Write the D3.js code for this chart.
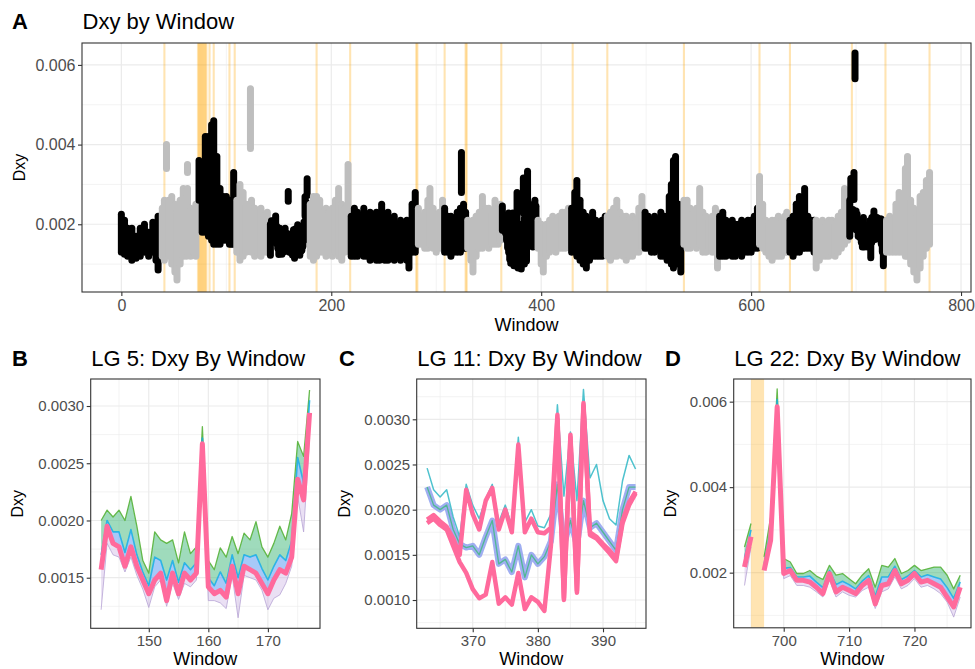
<!DOCTYPE html>
<html>
<head>
<meta charset="utf-8">
<title>Dxy by Window</title>
<script src="https://cdn.jsdelivr.net/npm/d3@7"></script>
<style>
  body { margin: 0; background: #fff; }
  svg text { font-family: "Liberation Sans", Arial, sans-serif; }
</style>
</head>
<body>
<div id="chart"></div>
<script>
// ---- data ----
// first window of every linkage group (colours alternate black / grey)
const lgStart = [0, 39, 73, 109, 142, 179, 218, 282, 307, 329, 363, 396, 429, 462, 497, 535, 569, 607, 636, 662, 694, 728];
// outlier windows shaded orange
const highlightWin = [41, 73, 74, 75, 76, 77, 78, 79, 80, 81, 84, 88, 103, 108, 186, 218, 281, 282, 308, 328, 329, 362, 430, 463, 536, 608, 637, 696, 728, 770];

// panel A: spread of the comparisons per window (LG 5, 11, 22 come from panels B-D)
const winA = [0, 3, 6, 10, 14, 18, 22, 26, 30, 33, 35, 37,
  39, 41, 43, 45, 48, 51, 53, 56, 59, 62, 63, 63, 66, 69, 71,
  74, 77, 80, 83, 86, 88, 91, 94, 97, 100, 103, 105, 107,
  110, 113, 116, 119, 123, 124, 127, 130, 133, 136, 139,
  180, 183, 186, 189, 192, 195, 198, 201, 204, 207, 210, 213, 216,
  219, 222, 225, 228, 231, 234, 237, 240, 243, 246, 248, 251, 254, 257, 260, 263, 266, 269, 272, 274, 277, 280,
  283, 286, 289, 292, 294, 297, 300, 303, 306,
  308, 311, 314, 317, 320, 323, 324, 326, 328,
  330, 333, 335, 338, 341, 344, 347, 350, 353, 356, 359, 361,
  397, 400, 402, 405, 408, 411, 414, 417, 420, 423, 426,
  429, 432, 434, 437, 440, 443, 446, 449, 452, 455, 458, 461,
  463, 466, 469, 472, 475, 478, 481, 484, 487, 490, 493, 496,
  499, 502, 505, 508, 511, 514, 517, 520, 522, 524, 526, 528, 531, 533,
  536, 539, 542, 545, 548, 551, 554, 557, 560, 563, 566, 568,
  570, 573, 576, 579, 582, 585, 588, 591, 594, 597, 600, 603, 606,
  608, 611, 614, 617, 620, 623, 626, 629, 632, 634,
  637, 640, 643, 646, 649, 651, 654, 657, 660,
  662, 665, 668, 671, 674, 677, 680, 683, 686, 689, 692,
  729, 732, 735, 738, 741, 744, 747, 749, 752, 755, 758, 761, 764, 767, 770];
const loA = [0.0013, 0.00125, 0.0012, 0.0011, 0.00115, 0.0012, 0.0013, 0.0012, 0.0013, 0.0011, 0.00085, 0.0012,
  0.0012, 0.0011, 0.0034, 0.0012, 0.0010, 0.0008, 0.0006, 0.0010, 0.0012, 0.0012, 0.0013, 0.0033, 0.0012, 0.0013, 0.0012,
  0.0026, 0.0018, 0.0018, 0.0017, 0.0016, 0.0015, 0.0015, 0.0015, 0.0016, 0.0016, 0.0015, 0.0015, 0.0015,
  0.0013, 0.0011, 0.0012, 0.0013, 0.0039, 0.0013, 0.0012, 0.0013, 0.0012, 0.0013, 0.0013,
  0.0012, 0.0011, 0.0012, 0.0013, 0.0013, 0.0012, 0.0013, 0.0012, 0.0013, 0.0012, 0.0011, 0.0013, 0.0014,
  0.0012, 0.0012, 0.0012, 0.0013, 0.0012, 0.0012, 0.0011, 0.0012, 0.0011, 0.0011, 0.0012, 0.0011, 0.0011, 0.0012, 0.0011, 0.0012, 0.0011, 0.0012, 0.0011, 0.0009, 0.0013, 0.0013,
  0.0015, 0.0015, 0.0014, 0.0014, 0.0015, 0.0014, 0.0013, 0.0014, 0.0014,
  0.0013, 0.0013, 0.0012, 0.0013, 0.0013, 0.0013, 0.0028, 0.0014, 0.0014,
  0.0014, 0.0011, 0.0008, 0.0012, 0.0014, 0.0014, 0.0015, 0.0014, 0.0015, 0.0015, 0.0015, 0.0016,
  0.0014, 0.0010, 0.0008, 0.0012, 0.0013, 0.0014, 0.0013, 0.0014, 0.0014, 0.0014, 0.0015,
  0.0013, 0.0013, 0.0012, 0.0011, 0.0010, 0.0009, 0.0011, 0.0012, 0.0012, 0.0012, 0.0012, 0.0013,
  0.0012, 0.0011, 0.0012, 0.0012, 0.0013, 0.0012, 0.0011, 0.0012, 0.0012, 0.0013, 0.0013, 0.0014,
  0.0014, 0.0014, 0.0013, 0.0013, 0.0014, 0.0012, 0.0012, 0.0011, 0.0012, 0.0010, 0.0009, 0.0010, 0.0010, 0.0008,
  0.0015, 0.0014, 0.0014, 0.0015, 0.0014, 0.0015, 0.0013, 0.0013, 0.0014, 0.0013, 0.0013, 0.0009,
  0.0012, 0.0012, 0.0012, 0.0013, 0.0012, 0.0012, 0.0013, 0.0012, 0.0013, 0.0013, 0.0013, 0.0014, 0.0014,
  0.0015, 0.0014, 0.0013, 0.0012, 0.0011, 0.0012, 0.0012, 0.0012, 0.0013, 0.0013,
  0.0013, 0.0012, 0.0013, 0.0013, 0.0014, 0.0014, 0.0014, 0.0014, 0.0013,
  0.0009, 0.0011, 0.0012, 0.0012, 0.0012, 0.0013, 0.0012, 0.0013, 0.0014, 0.0015, 0.0016,
  0.0013, 0.0013, 0.0013, 0.0013, 0.0013, 0.0013, 0.0012, 0.0012, 0.0010, 0.0008, 0.0006, 0.0009, 0.0012, 0.0014, 0.0015];
const hiA = [0.00225, 0.0021, 0.0019, 0.0019, 0.0017, 0.0019, 0.0020, 0.0018, 0.00205, 0.0019, 0.0022, 0.0022,
  0.0024, 0.0026, 0.0040, 0.0026, 0.0027, 0.0025, 0.0023, 0.0026, 0.0029, 0.0027, 0.0029, 0.0035, 0.0024, 0.0023, 0.0025,
  0.0036, 0.0035, 0.0042, 0.0042, 0.0045, 0.0046, 0.0037, 0.0029, 0.0027, 0.0027, 0.0026, 0.0025, 0.0033,
  0.0026, 0.0030, 0.0028, 0.0025, 0.0054, 0.0026, 0.0024, 0.0023, 0.0024, 0.0022, 0.0023,
  0.0025, 0.0027, 0.0027, 0.0026, 0.0023, 0.0024, 0.0023, 0.0024, 0.0026, 0.0029, 0.0025, 0.0024, 0.0035,
  0.0022, 0.0024, 0.0023, 0.0021, 0.0024, 0.0022, 0.0023, 0.0021, 0.0023, 0.0022, 0.0025, 0.0022, 0.0023, 0.0021, 0.0022, 0.0020, 0.0021, 0.0020, 0.0021, 0.0019, 0.0025, 0.0028,
  0.0024, 0.0022, 0.0023, 0.0026, 0.0029, 0.0024, 0.0022, 0.0023, 0.0026,
  0.0024, 0.0022, 0.0022, 0.0021, 0.0023, 0.0024, 0.0038, 0.0025, 0.0023,
  0.0021, 0.0020, 0.0021, 0.0022, 0.0023, 0.0027, 0.0024, 0.0024, 0.0023, 0.0026, 0.0024, 0.0025,
  0.0021, 0.0020, 0.0019, 0.0020, 0.0021, 0.0022, 0.0021, 0.0022, 0.0023, 0.0023, 0.0024,
  0.0024, 0.0028, 0.0031, 0.0026, 0.0023, 0.0022, 0.0021, 0.0023, 0.0021, 0.0020, 0.0021, 0.0022,
  0.0022, 0.0023, 0.0024, 0.0026, 0.0023, 0.0022, 0.0022, 0.0021, 0.0022, 0.0021, 0.0024, 0.0027,
  0.0023, 0.0022, 0.0021, 0.0022, 0.0021, 0.0023, 0.0022, 0.0022, 0.0027, 0.0030, 0.0036, 0.0037, 0.0025, 0.0023,
  0.0026, 0.0026, 0.0024, 0.0023, 0.0024, 0.0029, 0.0023, 0.0022, 0.0021, 0.0022, 0.0024, 0.0023,
  0.0022, 0.0023, 0.0021, 0.0020, 0.0021, 0.0020, 0.0020, 0.0021, 0.0020, 0.0021, 0.0021, 0.0022, 0.0024,
  0.0032, 0.0025, 0.0021, 0.0020, 0.0021, 0.0021, 0.0022, 0.0021, 0.0022, 0.0023,
  0.0021, 0.0022, 0.0025, 0.0027, 0.0026, 0.0029, 0.0022, 0.0021, 0.0021,
  0.0021, 0.0020, 0.0021, 0.0020, 0.0021, 0.0021, 0.0020, 0.0022, 0.0023, 0.0029, 0.0025,
  0.0021, 0.0022, 0.0021, 0.0025, 0.0028, 0.0023, 0.0034, 0.0037, 0.0026, 0.0024, 0.0022, 0.0027, 0.0028, 0.0031, 0.0033];

// panel B: LG 5, windows 142-177
const lg5First = 142;
const lg5Top  = [0.00200, 0.00209, 0.00203, 0.00209, 0.00200, 0.00221, 0.00195, 0.00165, 0.00154, 0.00190, 0.00183, 0.00180, 0.00183, 0.00163, 0.00190, 0.00171, 0.00177, 0.00282, 0.00165, 0.00157, 0.00176, 0.00168, 0.00186, 0.00171, 0.00189, 0.00183, 0.00199, 0.00177, 0.00168, 0.00180, 0.00195, 0.00183, 0.00206, 0.00269, 0.00256, 0.00314];
const lg5Mid  = [0.00170, 0.00200, 0.00190, 0.00190, 0.00172, 0.00192, 0.00170, 0.00155, 0.00143, 0.00168, 0.00165, 0.00148, 0.00165, 0.00146, 0.00163, 0.00157, 0.00163, 0.00272, 0.00150, 0.00143, 0.00155, 0.00145, 0.00170, 0.00150, 0.00170, 0.00168, 0.00170, 0.00158, 0.00148, 0.00160, 0.00170, 0.00165, 0.00182, 0.00255, 0.00233, 0.00305];
const lg5Pink = [0.00157, 0.00195, 0.00180, 0.00177, 0.00160, 0.00177, 0.00160, 0.00148, 0.00136, 0.00148, 0.00154, 0.00130, 0.00154, 0.00136, 0.00154, 0.00148, 0.00154, 0.00267, 0.00142, 0.00136, 0.00139, 0.00133, 0.00160, 0.00136, 0.00160, 0.00157, 0.00154, 0.00145, 0.00136, 0.00148, 0.00157, 0.00154, 0.00168, 0.00236, 0.00218, 0.00294];
const lg5Low  = [0.00122, 0.00180, 0.00170, 0.00168, 0.00155, 0.00168, 0.00152, 0.00140, 0.00124, 0.00142, 0.00148, 0.00125, 0.00145, 0.00131, 0.00145, 0.00142, 0.00148, 0.00258, 0.00130, 0.00130, 0.00128, 0.00123, 0.00152, 0.00115, 0.00152, 0.00150, 0.00148, 0.00139, 0.00122, 0.00132, 0.00135, 0.00145, 0.00160, 0.00221, 0.00190, 0.00272];

// panel C: LG 11, windows 363-395
const lg11First = 363;
const lg11Top = [0.00246, 0.00222, 0.00214, 0.00222, 0.00192, 0.00170, 0.00228, 0.00205, 0.00190, 0.00212, 0.00228, 0.00186, 0.00205, 0.00182, 0.00280, 0.00186, 0.00200, 0.00182, 0.00180, 0.00195, 0.00316, 0.00215, 0.00286, 0.00210, 0.00333, 0.00235, 0.00250, 0.00210, 0.00190, 0.00183, 0.00232, 0.00260, 0.00245];
const lg11Mid = [0.00225, 0.00205, 0.00200, 0.00205, 0.00178, 0.00162, 0.00158, 0.00160, 0.00150, 0.00170, 0.00188, 0.00140, 0.00145, 0.00131, 0.00160, 0.00125, 0.00150, 0.00140, 0.00148, 0.00165, 0.00228, 0.00160, 0.00188, 0.00160, 0.00210, 0.00180, 0.00185, 0.00175, 0.00165, 0.00155, 0.00200, 0.00225, 0.00225];
const lg11Up  = [0.00189, 0.00194, 0.00187, 0.00181, 0.00168, 0.00150, 0.00222, 0.00195, 0.00178, 0.00210, 0.00224, 0.00178, 0.00200, 0.00175, 0.00272, 0.00175, 0.00190, 0.00175, 0.00174, 0.00180, 0.00305, 0.00102, 0.00283, 0.00110, 0.00318, 0.00175, 0.00170, 0.00162, 0.00155, 0.00146, 0.00188, 0.00208, 0.00220];
const lg11Lo  = [0.00185, 0.00190, 0.00183, 0.00178, 0.00160, 0.00142, 0.00130, 0.00112, 0.00102, 0.00106, 0.00142, 0.00096, 0.00103, 0.00095, 0.00130, 0.00090, 0.00103, 0.00098, 0.00088, 0.00160, 0.00300, 0.00100, 0.00280, 0.00108, 0.00315, 0.00172, 0.00168, 0.00160, 0.00152, 0.00143, 0.00185, 0.00205, 0.00218];

// panel D: LG 22, windows 694-727 (696 missing)
const lg22First = 694;
const lg22Top  = [0.00260, 0.00315, null, 0.00237, 0.00330, 0.00630, 0.00233, 0.00225, 0.00198, 0.00198, 0.00205, 0.00192, 0.00184, 0.00217, 0.00194, 0.00198, 0.00186, 0.00174, 0.00194, 0.00209, 0.00166, 0.00217, 0.00213, 0.00233, 0.00198, 0.00205, 0.00217, 0.00205, 0.00209, 0.00213, 0.00213, 0.00194, 0.00162, 0.00194];
const lg22Mid  = [0.00235, 0.00300, null, 0.00220, 0.00300, 0.00605, 0.00210, 0.00212, 0.00190, 0.00190, 0.00192, 0.00178, 0.00165, 0.00205, 0.00172, 0.00180, 0.00172, 0.00162, 0.00180, 0.00193, 0.00145, 0.00190, 0.00190, 0.00215, 0.00184, 0.00192, 0.00205, 0.00190, 0.00195, 0.00190, 0.00185, 0.00165, 0.00140, 0.00178];
const lg22Pink = [0.00213, 0.00284, null, 0.00205, 0.00276, 0.00588, 0.00198, 0.00205, 0.00182, 0.00182, 0.00178, 0.00166, 0.00151, 0.00198, 0.00155, 0.00166, 0.00159, 0.00151, 0.00170, 0.00182, 0.00127, 0.00170, 0.00174, 0.00205, 0.00174, 0.00182, 0.00198, 0.00178, 0.00182, 0.00174, 0.00166, 0.00143, 0.00120, 0.00166];
const lg22Low  = [0.00170, 0.00260, null, 0.00205, 0.00262, 0.00565, 0.00186, 0.00193, 0.00170, 0.00170, 0.00166, 0.00155, 0.00143, 0.00182, 0.00143, 0.00155, 0.00147, 0.00143, 0.00158, 0.00166, 0.00116, 0.00155, 0.00162, 0.00190, 0.00162, 0.00170, 0.00186, 0.00166, 0.00170, 0.00162, 0.00151, 0.00131, 0.00096, 0.00143];

// ---- drawing ----
const svg = d3.select("#chart").append("svg")
    .attr("width", 975)
    .attr("height", 669);

const gridCol = "#ebebeb";
const inkCol = "#333333";
const tickTextCol = "#4d4d4d";

function frame(p) {
    const [l, r] = p.x.range();
    const [b, t] = p.y.range();
    const g = svg.append("g");
    g.append("rect").attr("x", l).attr("y", t).attr("width", r - l).attr("height", b - t).attr("fill", "#fff");

    svg.append("clipPath").attr("id", "clip-" + p.id)
        .append("rect").attr("x", l).attr("y", t).attr("width", r - l).attr("height", b - t);

    g.selectAll(".ymin").data(p.yMinor).enter().append("line")
        .attr("x1", l).attr("x2", r).attr("y1", d => p.y(d)).attr("y2", d => p.y(d))
        .attr("stroke", gridCol).attr("stroke-width", 0.6);
    g.selectAll(".xmin").data(p.xMinor).enter().append("line")
        .attr("y1", t).attr("y2", b).attr("x1", d => p.x(d)).attr("x2", d => p.x(d))
        .attr("stroke", gridCol).attr("stroke-width", 0.6);
    g.selectAll(".ymaj").data(p.yTicks).enter().append("line")
        .attr("x1", l).attr("x2", r).attr("y1", d => p.y(d)).attr("y2", d => p.y(d))
        .attr("stroke", gridCol).attr("stroke-width", 1.2);
    g.selectAll(".xmaj").data(p.xTicks).enter().append("line")
        .attr("y1", t).attr("y2", b).attr("x1", d => p.x(d)).attr("x2", d => p.x(d))
        .attr("stroke", gridCol).attr("stroke-width", 1.2);

    return svg.append("g").attr("clip-path", "url(#clip-" + p.id + ")");
}

function axes(p) {
    const [l, r] = p.x.range();
    const [b, t] = p.y.range();
    svg.append("rect").attr("x", l).attr("y", t).attr("width", r - l).attr("height", b - t)
        .attr("fill", "none").attr("stroke", inkCol).attr("stroke-width", 1.1);

    const ya = svg.append("g").attr("transform", `translate(${l},0)`)
        .call(d3.axisLeft(p.y).tickValues(p.yTicks).tickFormat(d3.format(p.yFmt)).tickSize(4).tickPadding(2.5));
    const xa = svg.append("g").attr("transform", `translate(0,${b})`)
        .call(d3.axisBottom(p.x).tickValues(p.xTicks).tickFormat(d3.format("d")).tickSize(4).tickPadding(3.5));
    [ya, xa].forEach(a => {
        a.select(".domain").remove();
        a.selectAll(".tick line").attr("stroke", inkCol).attr("stroke-width", 1.1);
        a.selectAll(".tick text").attr("fill", tickTextCol)
            .style("font-size", p.tickFs + "px")
            .style("font-family", '"Liberation Sans", Arial, sans-serif');
    });

    svg.append("text").attr("x", (l + r) / 2).attr("y", p.xTitleY)
        .attr("text-anchor", "middle").attr("font-size", 18).attr("fill", "#000").text("Window");
    svg.append("text").attr("transform", `translate(${p.yTitleX},${(t + b) / 2}) rotate(-90)`)
        .attr("text-anchor", "middle").attr("font-size", 16).attr("fill", "#000").text("Dxy");

    svg.append("text").attr("x", p.tagX).attr("y", p.titleY)
        .attr("font-size", 22).attr("font-weight", "bold").attr("fill", "#000").text(p.tag);
    svg.append("text").attr("x", l + 0.5).attr("y", p.titleY)
        .attr("font-size", 22).attr("fill", "#000").text(p.title);
}

// ---------- panel A ----------
const xA = d3.scaleLinear().domain([-37.5, 809.5]).range([82, 971]);
const yA = d3.scaleLinear().domain([0.0003, 0.00655]).range([292, 43]);
const pA = {
    id: "A", x: xA, y: yA,
    xTicks: [0, 200, 400, 600, 800], xMinor: [100, 300, 500, 700],
    yTicks: [0.002, 0.004, 0.006], yMinor: [0.001, 0.003, 0.005], yFmt: ".3f",
    tickFs: 16, xTitleY: 331, yTitleX: 25, tag: "A", tagX: 12, titleY: 29, title: "Dxy by Window"
};

// panels B-D share the layout below
const panels = [
    { id: "B", first: lg5First, series: [lg5Top, lg5Mid, lg5Pink, lg5Low], band: true,
      x: d3.scaleLinear().domain([140.25, 178.75]).range([90.7, 320]),
      y: d3.scaleLinear().domain([0.001058, 0.003236]).range([628.3, 379]),
      xTicks: [150, 160, 170], xMinor: [145, 155, 165, 175],
      yTicks: [0.0015, 0.002, 0.0025, 0.003], yMinor: [0.00125, 0.00175, 0.00225, 0.00275], yFmt: ".4f",
      tickFs: 15, xTitleY: 665, yTitleX: 23, tag: "B", tagX: 12, titleY: 366, title: "LG 5: Dxy By Window" },
    { id: "C", first: lg11First, series: [lg11Top, lg11Mid, lg11Up, lg11Lo], band: false,
      x: d3.scaleLinear().domain([361.4, 396.6]).range([416.7, 646]),
      y: d3.scaleLinear().domain([0.000687, 0.003446]).range([628.3, 379]),
      xTicks: [370, 380, 390], xMinor: [365, 375, 385, 395],
      yTicks: [0.001, 0.0015, 0.002, 0.0025, 0.003], yMinor: [0.00075, 0.00125, 0.00175, 0.00225, 0.00275, 0.00325], yFmt: ".4f",
      tickFs: 15, xTitleY: 665, yTitleX: 350, tag: "C", tagX: 339, titleY: 366, title: "LG 11: Dxy By Window" },
    { id: "D", first: lg22First, series: [lg22Top, lg22Mid, lg22Pink, lg22Low], band: true,
      x: d3.scaleLinear().domain([692.35, 728.65]).range([733.7, 971]),
      y: d3.scaleLinear().domain([0.00071, 0.00653]).range([627.8, 379]),
      xTicks: [700, 710, 720], xMinor: [695, 705, 715, 725],
      yTicks: [0.002, 0.004, 0.006], yMinor: [0.001, 0.003, 0.005], yFmt: ".3f",
      tickFs: 15, xTitleY: 665, yTitleX: 676, tag: "D", tagX: 665, titleY: 366, title: "LG 22: Dxy By Window" }
];

// stacks of points per window for panel A
const stacks = winA.map((w, i) => ({ w: w, lo: loA[i], hi: hiA[i] }));
panels.forEach(pn => {
    pn.series[0].forEach((_, i) => {
        const vals = pn.series.map(s => s[i]).filter(v => v != null);
        if (vals.length) stacks.push({ w: pn.first + i, lo: d3.min(vals), hi: d3.max(vals) });
    });
});
stacks.sort((a, b) => a.w - b.w);
const lgIndex = w => d3.bisectRight(lgStart, w) - 1;

const gA = frame(pA);
gA.selectAll("rect.hl").data(highlightWin).enter().append("rect")
    .attr("x", d => xA(d - 1)).attr("width", d => xA(d + 1) - xA(d - 1))
    .attr("y", 43).attr("height", 249)
    .attr("fill", "orange").attr("opacity", 0.3);
gA.selectAll("line.pt").data(stacks).enter().append("line")
    .attr("x1", d => xA(d.w)).attr("x2", d => xA(d.w))
    .attr("y1", d => yA(d.lo)).attr("y2", d => yA(d.hi))
    .attr("stroke", d => lgIndex(d.w) % 2 ? "#bebebe" : "#000")
    .attr("stroke-width", 7).attr("stroke-linecap", "round");
axes(pA);

// ---------- panels B-D ----------
panels.forEach(pn => {
    const g = frame(pn);
    const last = pn.first + pn.series[0].length - 1;
    const hl = highlightWin.filter(w => w >= pn.first && w <= last);
    const [b, t] = pn.y.range();
    g.selectAll("rect.hl").data(hl).enter().append("rect")
        .attr("x", d => pn.x(d - 1)).attr("width", d => pn.x(d + 1) - pn.x(d - 1))
        .attr("y", t).attr("height", b - t)
        .attr("fill", "orange").attr("opacity", 0.3);

    const X = (d, i) => pn.x(pn.first + i);
    const ok = d => d != null;
    const line = d3.line().defined(ok).x(X).y(d => pn.y(d));
    const [top, mid, third, fourth] = pn.series;
    const stroke = (data, col, w, op) => g.append("path").datum(data).attr("d", line)
        .attr("fill", "none").attr("stroke", col).attr("stroke-width", w)
        .attr("opacity", op).attr("stroke-linejoin", "round");

    if (pn.band) {
        const area = (hi, lo) => d3.area().defined((d, i) => hi[i] != null)
            .x(X).y0((d, i) => pn.y(lo[i])).y1((d, i) => pn.y(hi[i]));
        g.append("path").datum(top).attr("d", area(third, fourth)).attr("fill", "#c4a6e0").attr("opacity", 0.35);
        g.append("path").datum(top).attr("d", area(top, mid)).attr("fill", "#3fb87a").attr("opacity", 0.5);
        g.append("path").datum(top).attr("d", area(mid, third)).attr("fill", "#5f9cf2").attr("opacity", 0.55);
        stroke(fourth, "#b6a4d4", 1, 0.8);
        stroke(top, "#58b33a", 1.3, 0.9);
        stroke(mid, "#16aee6", 1.6, 0.85);
        stroke(third, "#ff6a9c", 5, 1);
    } else {
        stroke(mid, "#8ea0ee", 6, 0.85);
        stroke(mid, "#47b98a", 1.3, 0.9);
        stroke(top, "#2fb7c6", 1.5, 0.85);
        stroke(fourth, "#ff6a9c", 4.5, 1);
        stroke(third, "#ff6a9c", 4.5, 1);
    }
    axes(pn);
});
</script>
</body>
</html>
